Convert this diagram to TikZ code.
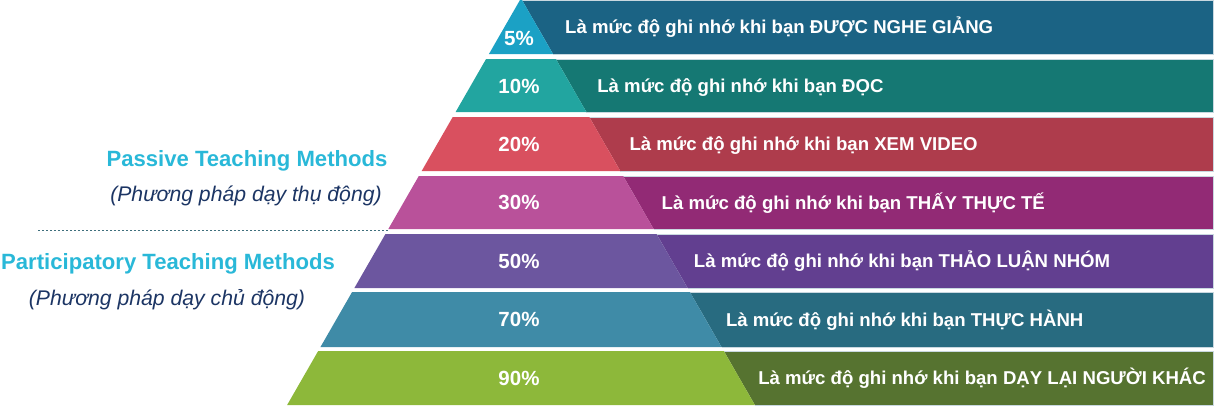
\documentclass[tikz,border=0pt]{standalone}
\usepackage{fontspec}
\setmainfont{Liberation Sans}
\definecolor{cAl}{HTML}{1BA1C5}\definecolor{cAd}{HTML}{1B6384}
\definecolor{cBl}{HTML}{22A5A0}\definecolor{cBd}{HTML}{157873}
\definecolor{cCl}{HTML}{D9505F}\definecolor{cCd}{HTML}{AE3C4C}
\definecolor{cDl}{HTML}{B9519A}\definecolor{cDd}{HTML}{922A75}
\definecolor{cEl}{HTML}{6C569F}\definecolor{cEd}{HTML}{623F90}
\definecolor{cFl}{HTML}{3F8BA7}\definecolor{cFd}{HTML}{286B80}
\definecolor{cGl}{HTML}{8DB83A}\definecolor{cGd}{HTML}{567330}
\definecolor{headcyan}{HTML}{29B8D8}
\definecolor{subnavy}{HTML}{1C3564}
\definecolor{dotcol}{HTML}{3E6E7C}
\definecolor{edgecol}{HTML}{C9D8E0}
\newcommand\pyrband[8]{%
  \pgfmathsetmacro\pbTL{520-0.575*#1}%
  \pgfmathsetmacro\pbTR{522+0.575*#1}%
  \pgfmathsetmacro\pbBL{520-0.575*#2}%
  \pgfmathsetmacro\pbBR{522+0.575*#2}%
  \pgfmathsetmacro\pbM{(#1+#2)/2}%
  \pgfmathsetmacro\pbTX{565+0.55*(\pbM-27)}%
  \fill[#4] (\pbTR,#1) -- (1213,#1) -- (1213,#2) -- (\pbBR,#2) -- cycle;
  \draw[edgecol,line width=0.7pt] (\pbTR,#1) -- (1213.3,#1) -- (1213.3,#2) -- (\pbBR,#2);
  \fill[#3] (\pbTL,#1) -- (\pbTR,#1) -- (\pbBR,#2) -- (\pbBL,#2) -- cycle;
  \node[pcttext] (p#5) at (519,#8) {#6};
  \node[desctext] (d#5) at (\pbTX,\pbM+6.5) {#7};
}
\begin{document}
\begin{tikzpicture}[x=1pt,y=-1pt,
  pcttext/.style={anchor=base,inner sep=0pt,text=white,font=\fontsize{20.5}{22}\selectfont\bfseries},
  desctext/.style={anchor=base west,inner sep=0pt,text=white,font=\fontsize{18.6}{20}\selectfont\bfseries},
  headtext/.style={anchor=base,inner sep=0pt,text=headcyan,font=\fontsize{22.1}{25}\selectfont\bfseries},
  subtext/.style={anchor=base,inner sep=0pt,text=subnavy,font=\fontsize{21.2}{24}\selectfont\itshape}]
\useasboundingbox (0,0) rectangle (1214,405);
\pyrband{0}{54}{cAl}{cAd}{a}{5\%}{Là mức độ ghi nhớ khi bạn ĐƯỢC NGHE GIẢNG}{45}
\pyrband{59}{112}{cBl}{cBd}{b}{10\%}{Là mức độ ghi nhớ khi bạn ĐỌC}{93}
\pyrband{117}{171}{cCl}{cCd}{c}{20\%}{Là mức độ ghi nhớ khi bạn XEM VIDEO}{151}
\pyrband{176}{229}{cDl}{cDd}{d}{30\%}{Là mức độ ghi nhớ khi bạn THẤY THỰC TẾ}{209.5}
\pyrband{234}{288}{cEl}{cEd}{e}{50\%}{Là mức độ ghi nhớ khi bạn THẢO LUẬN NHÓM}{268}
\pyrband{292}{347}{cFl}{cFd}{f}{70\%}{Là mức độ ghi nhớ khi bạn THỰC HÀNH}{326.5}
\pyrband{351}{405}{cGl}{cGd}{g}{90\%}{Là mức độ ghi nhớ khi bạn DẠY LẠI NGƯỜI KHÁC}{385}
\node[headtext] (passive) at (247,166) {Passive Teaching Methods};
\node[subtext] (passivesub) at (246,201) {(Phương pháp dạy thụ động)};
\coordinate (dl) at (38,230);
\coordinate (dr) at (388,230);
\draw[dotcol,line width=0.9pt,dash pattern=on 2pt off 2pt] (dl) -- (dr);
\node[headtext] (partic) at (168,269) {Participatory Teaching Methods};
\node[subtext] (particsub) at (167,305) {(Phương pháp dạy chủ động)};
\end{tikzpicture}
\end{document}
